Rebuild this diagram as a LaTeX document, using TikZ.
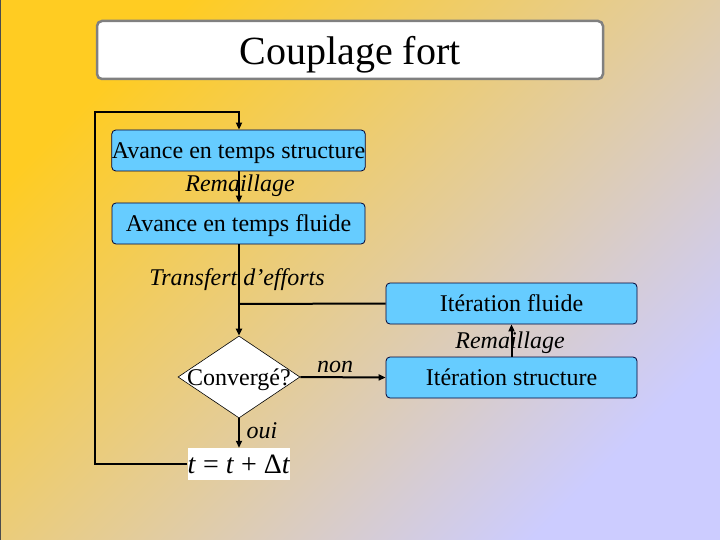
\documentclass[tikz,border=0pt]{standalone}
\usepackage{fontspec}
\setmainfont{Liberation Serif}
\usetikzlibrary{arrows.meta,shapes.geometric}
\begin{document}
\begin{tikzpicture}[x=1pt,y=-1pt,
  blubox/.style={draw=black!80!blue, line width=0.8pt, fill=boxblue, rounded corners=4pt, minimum width=253pt, minimum height=41pt, inner sep=0pt, text depth=0pt, font=\fontsize{24}{26}\selectfont},
  itbox/.style={draw=black!80!blue, line width=0.8pt, fill=boxblue, rounded corners=4pt, minimum width=251pt, minimum height=41pt, inner sep=0pt, text depth=0pt, font=\fontsize{24}{26}\selectfont},
  lbl/.style={font=\fontsize{24}{26}\selectfont\itshape, inner sep=0pt},
  conn/.style={line width=2pt, black},
  arr/.style={conn, -{Triangle[length=7pt,width=6pt]}}]
\definecolor{boxblue}{RGB}{102,204,255}
\definecolor{bgA}{RGB}{255,204,34}
\definecolor{bgM}{RGB}{234,204,162}
\definecolor{bgB}{RGB}{204,204,255}
\useasboundingbox (0,0) rectangle (720,540);
\shade[shading=axis, top color=bgA, middle color=bgM, bottom color=bgB, shading angle=45] (0,0) rectangle (720,540);
\draw[black!70, line width=1pt] (0.5,0) -- (0.5,540);
% title
\node[draw=gray, line width=2.5pt, fill=white, rounded corners=5pt, minimum width=506pt, minimum height=58pt, inner sep=0pt, text depth=0pt, font=\fontsize{40}{44}\selectfont] (title) at (350,50) {Couplage fort};
% left column
\node[blubox] (b1) at (238.5,150.5) {Avance en temps structure};
\node[blubox] (b2) at (238.5,223.5) {Avance en temps fluide};
\node[lbl] (rem1) at (240,186) {Remaillage};
\node[lbl] (tr) at (237,280) {Transfert d’efforts};
\node[diamond, draw=black, line width=0.6pt, fill=white, minimum width=122pt, minimum height=82pt, aspect=1.49, inner sep=0pt] (dia) at (239,377) {};
\node[font=\fontsize{24}{26}\selectfont, inner sep=0pt, text depth=0pt] (diat) at (dia.center) {Convergé?};
\node[fill=white, minimum width=102pt, minimum height=32pt, inner sep=0pt, text depth=0pt, font=\fontsize{28}{30}\selectfont] (tt) at (239,464) {\textit{t} = \textit{t} + Δ\textit{t}};
\node[lbl] (oui) at (262,431) {oui};
\node[lbl] (non) at (335,367) {non};
% right column
\node[itbox] (f) at (511.5,303.5) {Itération fluide};
\node[itbox] (s) at (511.5,377.5) {Itération structure};
\node[lbl] (rem2) at (510,343) {Remaillage};
% connectors
\coordinate (c1) at (95,464);
\coordinate (c2) at (95,112);
\coordinate (c3) at (239,112);
\coordinate (j) at (239,304);
\draw[arr] (tt.west) -- (c1) -- (c2) -- (c3) -- (b1.north -| c3);
\draw[arr] (b1.south -| c3) -- (b2.north -| c3);
\draw[arr] (b2.south -| c3) -- (dia.north);
\draw[conn] (j) -- (f.west);
\draw[arr] (dia.east) -- (s.west);
\draw[arr] (dia.south) -- (tt.north);
\draw[arr] (s.north) -- (f.south);
\end{tikzpicture}
\end{document}
